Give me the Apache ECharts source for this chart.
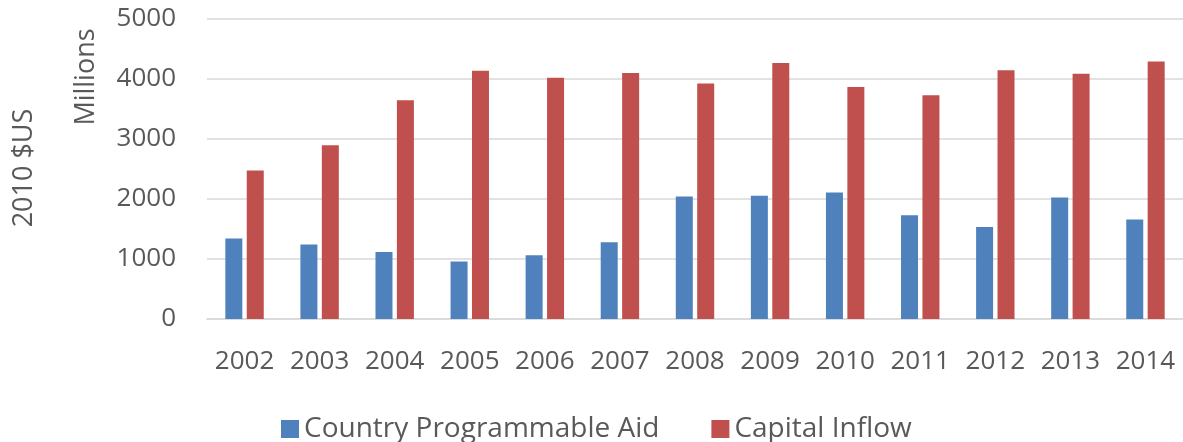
<!DOCTYPE html>
<html>
<head>
<meta charset="utf-8">
<script src="https://cdn.jsdelivr.net/npm/echarts@6/dist/echarts.min.js"></script>
<style>
  html, body { margin: 0; padding: 0; background: #ffffff; }
  #chart { width: 1183px; height: 442px; }
</style>
</head>
<body>
<div id="chart"></div>
<script>
// Years shown on the category axis
const years = ['2002', '2003', '2004', '2005', '2006', '2007', '2008',
               '2009', '2010', '2011', '2012', '2013', '2014'];

// Country Programmable Aid, millions of 2010 US dollars
const programmableAid = [1340, 1240, 1115, 955, 1060, 1275, 2040,
                         2050, 2105, 1725, 1530, 2020, 1655];

// Capital Inflow, millions of 2010 US dollars
const capitalInflow = [2470, 2890, 3640, 4130, 4015, 4095, 3920,
                       4260, 3860, 3725, 4140, 4080, 4285];

// Value axis tick range
const yTicks = { min: 0, max: 5000, interval: 1000 };

const seriesNames = ['Country Programmable Aid', 'Capital Inflow'];
const unitLabel = 'Millions';
const currencyLabel = '2010 $US';

const FONT = '"Open Sans", "Noto Sans", sans-serif';
const TEXT_GREY = '#595959';
const GRID_GREY = '#d9d9d9';

const chart = echarts.init(document.getElementById('chart'), null, { renderer: 'canvas' });

chart.setOption({
  animation: false,
  backgroundColor: '#ffffff',
  grid: { left: 207, right: -2, top: 18.5, bottom: 123, containLabel: false },
  legend: {
    data: seriesNames,
    left: 281,
    top: 415,
    padding: 0,
    itemWidth: 18,
    itemHeight: 18,
    itemGap: 52,
    icon: 'rect',
    textStyle: { fontFamily: FONT, fontSize: 28, color: TEXT_GREY }
  },
  xAxis: {
    type: 'category',
    data: years,
    axisLine: { show: true, lineStyle: { color: GRID_GREY, width: 1.5 } },
    axisTick: { show: false },
    axisLabel: { interval: 0, margin: 30, fontFamily: FONT, fontSize: 26, color: TEXT_GREY }
  },
  yAxis: {
    type: 'value',
    min: yTicks.min,
    max: yTicks.max,
    interval: yTicks.interval,
    axisLine: { show: false },
    axisTick: { show: false },
    splitLine: { show: true, lineStyle: { color: GRID_GREY, width: 1.5 } },
    axisLabel: {
      margin: 31,
      fontFamily: FONT,
      fontSize: 26,
      color: TEXT_GREY,
      formatter: (v) => String(v)
    }
  },
  graphic: [
    {
      type: 'text',
      x: 86, y: 77,
      rotation: Math.PI / 2,
      style: {
        text: unitLabel,
        font: '27px ' + FONT,
        fill: TEXT_GREY,
        textAlign: 'center',
        textVerticalAlign: 'middle'
      }
    },
    {
      type: 'text',
      x: 24, y: 168,
      rotation: Math.PI / 2,
      style: {
        text: currencyLabel,
        font: '27px ' + FONT,
        fill: TEXT_GREY,
        textAlign: 'center',
        textVerticalAlign: 'middle'
      }
    }
  ],
  series: [
    {
      name: seriesNames[0],
      type: 'bar',
      data: programmableAid,
      barWidth: 17,
      barGap: '26%',
      itemStyle: { color: '#4f81bd' }
    },
    {
      name: seriesNames[1],
      type: 'bar',
      data: capitalInflow,
      barWidth: 17,
      barGap: '26%',
      itemStyle: { color: '#c0504d' }
    }
  ]
});
</script>
</body>
</html>
